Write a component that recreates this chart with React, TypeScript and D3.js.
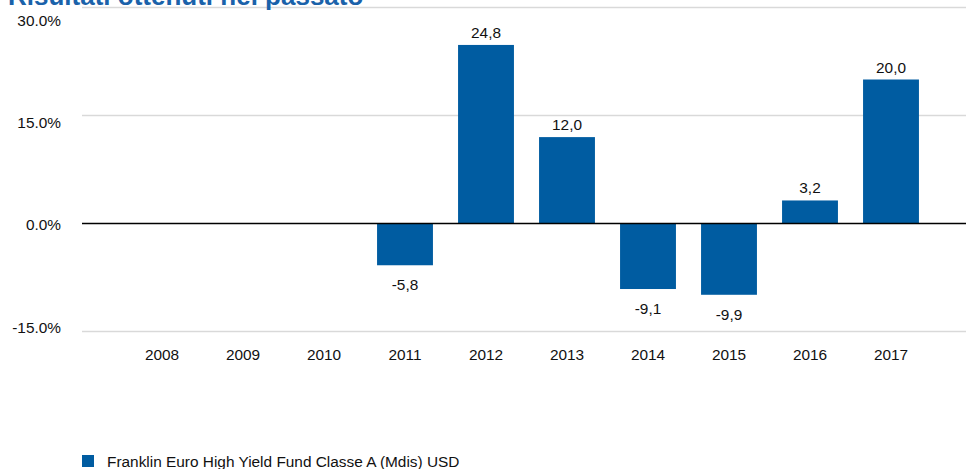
import React from "react";
import * as d3 from "d3";

const years = ["2008", "2009", "2010", "2011", "2012", "2013", "2014", "2015", "2016", "2017"];
const values: (number | null)[] = [null, null, null, -5.8, 24.8, 12.0, -9.1, -9.9, 3.2, 20.0];
const yTicks = [30, 15, 0, -15];
const title = "Risultati ottenuti nel passato";
const seriesName = "Franklin Euro High Yield Fund Classe A (Mdis) USD";

const W = 966;
const H = 469;
const BLUE = "#005ca1";
const FONT = "Liberation Sans, Arial, sans-serif";
const FS = 15.4;

export default function App() {
  const x = d3.scaleBand<string>().domain(years).range([121.5, 931.5]).paddingInner(0.31).paddingOuter(0.155);
  const y = d3.scaleLinear().domain([-15, 30]).range([331.5, 7.5]);
  const yLab = d3.scaleLinear().domain([-15, 30]).range([332.5, 26]);
  const fmt = (v: number) => v.toFixed(1).replace(".", ",");

  return (
    <svg width={W} height={H} style={{ position: "absolute", left: 0, top: 0, background: "#fff" }} fontFamily={FONT}>
      {yTicks.map((t) => (
        <g key={t}>
          {t !== 0 && (
            <line x1={82} x2={W} y1={y(t)} y2={y(t)} stroke="#d9d9d9" strokeWidth={1.3} />
          )}
          <text x={61} y={yLab(t)} textAnchor="end" fontSize={FS} fill="#111">
            {t.toFixed(1) + "%"}
          </text>
        </g>
      ))}
      <text x={8} y={5} fontSize={26} fontWeight="bold" fill="#1a62aa">{title}</text>
      {years.map((yr, i) => {
        const v = values[i];
        const cx = (x(yr) as number) + x.bandwidth() / 2;
        return (
          <g key={yr}>
            {v !== null && (
              <>
                <rect x={x(yr)} width={x.bandwidth()} y={Math.min(y(v), y(0))} height={Math.abs(y(v) - y(0))} fill={BLUE} />
                <text x={cx} y={v >= 0 ? y(v) - 7 : y(v) + 25} textAnchor="middle" fontSize={FS} fill="#111">
                  {fmt(v)}
                </text>
              </>
            )}
            <text x={cx} y={359.5} textAnchor="middle" fontSize={FS} fill="#111">{yr}</text>
          </g>
        );
      })}
      <line x1={82} x2={W} y1={y(0)} y2={y(0)} stroke="#000" strokeWidth={1.5} />
      <rect x={82} y={455} width={12} height={12} fill={BLUE} />
      <text x={107} y={467} fontSize={FS} fill="#111">{seriesName}</text>
    </svg>
  );
}
